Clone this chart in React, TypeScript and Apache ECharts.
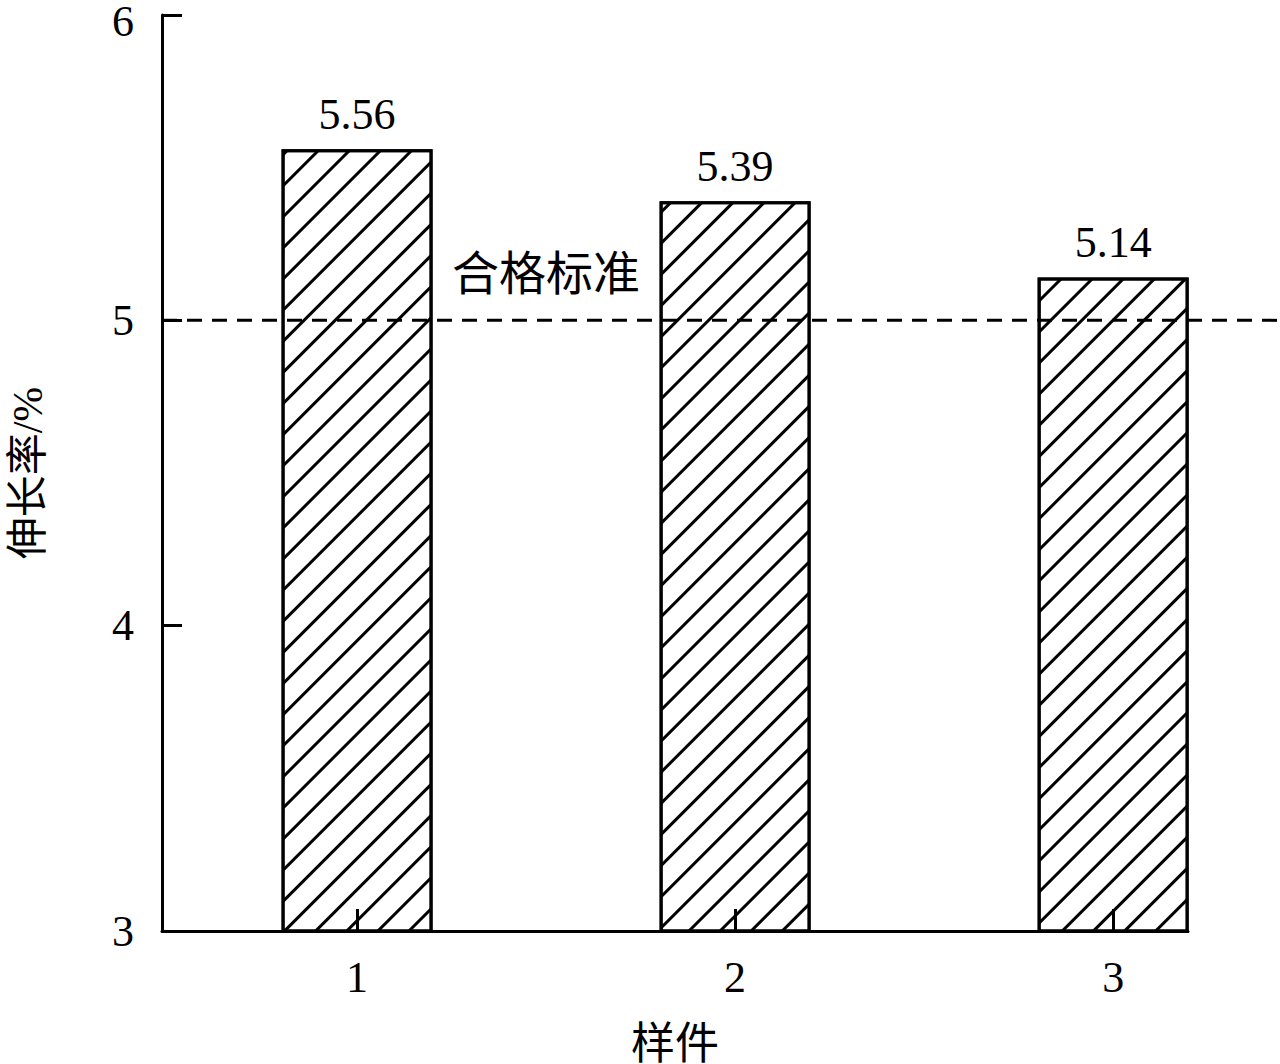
import React, { useEffect, useRef } from "react";
import * as echarts from "echarts";

const categories = [1, 2, 3];
const elongation = [5.56, 5.39, 5.14];
const standardValue = 5;
const standardLabel = "合格标准";
const yTicks = [3, 4, 5, 6];
const yName = "伸长率/%";
const xName = "样件";

const FONT = "'Liberation Serif', 'Times New Roman', 'Noto Sans CJK SC', serif";

export default function App() {
  const ref = useRef<HTMLDivElement>(null);
  useEffect(() => {
    if (!ref.current) return;
    document.body.style.margin = "0";
    const chart = echarts.init(ref.current, null, { renderer: "svg" });
    const option: any = {
      animation: false,
      backgroundColor: "#fff",
      grid: [
        { left: 162, right: 92, top: 15, bottom: 133, outerBoundsMode: "none", containLabel: false },
        { left: 162, right: 0, top: 15, bottom: 133, outerBoundsMode: "none", containLabel: false },
      ],
      xAxis: [
        {
          type: "value",
          gridIndex: 0,
          z: 10,
          min: 0.484,
          max: 3.198,
          name: xName,
          nameLocation: "middle",
          nameGap: 91,
          nameTextStyle: { fontSize: 44, color: "#000", fontFamily: FONT },
          axisLine: { show: true, lineStyle: { color: "#000", width: 3 } },
          axisTick: { show: true, inside: true, length: 22, customValues: categories, lineStyle: { color: "#000", width: 3 } },
          axisLabel: { customValues: categories, fontSize: 44, color: "#000", fontFamily: FONT, margin: 24 },
          splitLine: { show: false },
        },
        { type: "value", gridIndex: 1, min: 0, max: 1, show: false },
      ],
      yAxis: [
        {
          type: "value",
          gridIndex: 0,
          z: 10,
          min: yTicks[0],
          max: yTicks[yTicks.length - 1],
          interval: 1,
          name: yName,
          nameLocation: "middle",
          nameGap: 113,
          nameRotate: 90,
          nameTextStyle: { fontSize: 42, color: "#000", fontFamily: FONT },
          axisLine: { show: true, lineStyle: { color: "#000", width: 3 } },
          axisTick: { show: true, inside: true, length: 20, lineStyle: { color: "#000", width: 3 } },
          axisLabel: {
            fontSize: 44,
            color: "#000",
            fontFamily: FONT,
            margin: 28,
            formatter: (v: number) => (v === yTicks[yTicks.length - 1] ? "{top|" + v + "}" : String(v)),
            rich: { top: { fontSize: 44, fontFamily: FONT, color: "#000", padding: [12, 0, 0, 0] } },
          },
          splitLine: { show: false },
        },
        { type: "value", gridIndex: 1, min: yTicks[0], max: yTicks[yTicks.length - 1], show: false },
      ],
      series: [
        {
          type: "bar",
          xAxisIndex: 0,
          yAxisIndex: 0,
          barWidth: 151,
          data: categories.map((c, i) => [c, elongation[i]]),
          itemStyle: {
            color: "#fff",
            borderColor: "#000",
            borderWidth: 3,
            decal: {
              symbol: "rect",
              symbolSize: 1,
              dashArrayX: [1, 0],
              dashArrayY: [3, 19],
              rotation: -Math.PI / 4,
              color: "#000",
              backgroundColor: "#fff",
            },
          },
          label: {
            show: true,
            position: "top",
            distance: 13,
            fontSize: 44,
            color: "#000",
            fontFamily: FONT,
            formatter: (p: any) => p.value[1].toFixed(2),
          },
        },
        {
          type: "line",
          xAxisIndex: 1,
          yAxisIndex: 1,
          data: [
            [0, standardValue],
            [1, standardValue],
          ],
          symbol: "none",
          lineStyle: { color: "#000", width: 3, type: [15, 10] },
          z: 5,
        },
      ],
      graphic: [
        {
          type: "text",
          left: 452,
          top: 250,
          style: { text: standardLabel, fontSize: 47, fill: "#000", fontFamily: FONT },
        },
      ],
    };
    chart.setOption(option);
    return () => chart.dispose();
  }, []);
  return <div ref={ref} style={{ width: 1280, height: 1064 }} />;
}
